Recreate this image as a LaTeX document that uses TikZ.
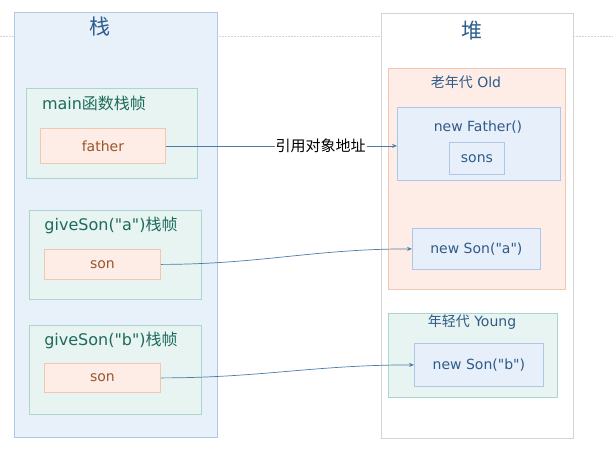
\documentclass[tikz,border=0pt]{standalone}
\usepackage{fontspec}
\setmainfont{DejaVu Sans}
\newfontfamily\cjk{Noto Sans CJK SC}
\usetikzlibrary{arrows.meta}
\definecolor{stackfill}{HTML}{E8F0FA}
\definecolor{stackline}{HTML}{AFC8E4}
\definecolor{framefill}{HTML}{E7F4F1}
\definecolor{frameline}{HTML}{AAD6CD}
\definecolor{varfill}{HTML}{FDEDE6}
\definecolor{varline}{HTML}{F2C7B1}
\definecolor{objfill}{HTML}{E7EFFA}
\definecolor{objline}{HTML}{AFC7E6}
\definecolor{heapline}{HTML}{D4D4D4}
\definecolor{titleblue}{HTML}{2C5E8E}
\definecolor{frametext}{HTML}{1E6B5C}
\definecolor{vartext}{HTML}{9C5428}
\definecolor{objtext}{HTML}{2F5B88}
\definecolor{arrowblue}{HTML}{4C7DAA}
\newcommand\dq{\textquotedbl}
\tikzset{
	box/.style={anchor=north west, inner sep=0pt, line width=0.8pt},
	stackbox/.style={box, draw=stackline, fill=stackfill},
	heapbox/.style={box, draw=heapline, fill=white},
	framebox/.style={box, draw=frameline, fill=framefill},
	varbox/.style={box, draw=varline, fill=varfill},
	oldbox/.style={box, draw=varline, fill=varfill},
	objbox/.style={box, draw=objline, fill=objfill},
	bigtitle/.style={font=\cjk\fontsize{21}{23}\selectfont, text=titleblue},
	frametitle/.style={font=\fontsize{16}{18}\selectfont, text=frametext},
	vartext/.style={font=\fontsize{14}{16}\selectfont, text=vartext},
	objlabel/.style={font=\fontsize{14}{16}\selectfont, text=objtext},
	refline/.style={draw=arrowblue, line width=0.7pt, -{Stealth[length=5pt,width=4pt]}},
	reflabel/.style={font=\cjk\fontsize{15}{17}\selectfont, fill=white, inner sep=1pt},
}
\begin{document}
\begin{tikzpicture}[x=1pt, y=-1pt]
	\useasboundingbox (0,0) rectangle (613,474);
	\draw[heapline, dashed, dash pattern=on 2pt off 1pt] (0,36) -- (613,36);
	% stack side
	\node[stackbox, minimum width=203pt, minimum height=425pt] (stack) at (14,12) {};
	\node[bigtitle] (stacktitle) at (100,27) {栈};
	\node[framebox, minimum width=171pt, minimum height=90pt] (mainframe) at (26,88) {};
	\node[frametitle] (maintitle) at (94,103) {main{\cjk 函数栈帧}};
	\node[varbox, minimum width=125pt, minimum height=35pt] (father) at (40,128) {};
	\node[vartext] at (father.center) {father};
	\node[framebox, minimum width=172pt, minimum height=89pt] (frameA) at (29,210) {};
	\node[frametitle] (titleA) at (111,225) {giveSon(\dq a\dq){\cjk 栈帧}};
	\node[varbox, minimum width=116pt, minimum height=30pt] (sonA) at (44,249) {};
	\node[vartext] at (sonA.center) {son};
	\node[framebox, minimum width=172pt, minimum height=89pt] (frameB) at (29,325) {};
	\node[frametitle] (titleB) at (111,340) {giveSon(\dq b\dq){\cjk 栈帧}};
	\node[varbox, minimum width=116pt, minimum height=29pt] (sonB) at (44,363) {};
	\node[vartext] at (sonB.center) {son};
	% heap side
	\node[heapbox, minimum width=192pt, minimum height=425pt] (heap) at (381,13) {};
	\node[bigtitle] (heaptitle) at (472,31) {堆};
	\node[oldbox, minimum width=177pt, minimum height=221pt] (old) at (388,68) {};
	\node[objlabel] (oldtitle) at (466,82) {{\cjk 老年代} Old};
	\node[objbox, minimum width=163pt, minimum height=73pt] (newfather) at (397,107) {};
	\node[objlabel] at (478,127) {new Father()};
	\node[objbox, minimum width=55pt, minimum height=32pt] (sons) at (449,142) {};
	\node[objlabel] at (sons.center) {sons};
	\node[objbox, minimum width=128pt, minimum height=41pt] (objA) at (412,228) {};
	\node[objlabel] at (objA.center) {new Son(\dq a\dq)};
	\node[framebox, minimum width=169pt, minimum height=84pt] (young) at (388,313) {};
	\node[objlabel] (youngtitle) at (472,322) {{\cjk 年轻代} Young};
	\node[objbox, minimum width=129pt, minimum height=43pt] (objB) at (414,343) {};
	\node[objlabel] at (objB.center) {new Son(\dq b\dq)};
	% references
	\draw[refline] (father.east) -- node[reflabel, pos=0.67] {引用对象地址} (father.east -| newfather.west);
	\draw[refline] (sonA.east) to[out=0, in=180] (objA.west);
	\draw[refline] (sonB.east) to[out=0, in=180] (objB.west);
\end{tikzpicture}
\end{document}
